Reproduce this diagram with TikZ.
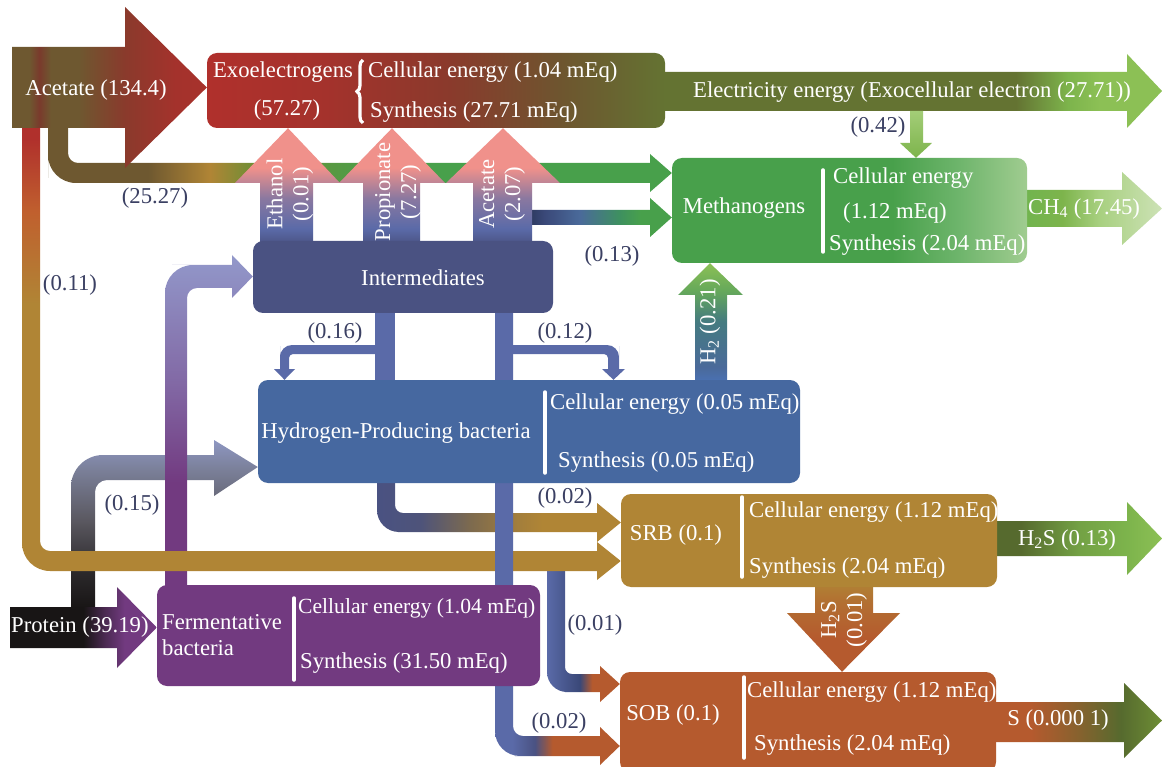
\documentclass[tikz,border=0pt]{standalone}
\usepackage{fontspec}
\setmainfont{Liberation Serif}
\usepackage{tikz}
\usetikzlibrary{decorations.pathreplacing}
\definecolor{navy}{HTML}{3B4063}\definecolor{exored}{HTML}{B0302C}\definecolor{exored2}{HTML}{A4322C}
\definecolor{maroon}{HTML}{8A3A2C}\definecolor{rusty}{HTML}{7A3A2C}\definecolor{umber}{HTML}{6E552F}
\definecolor{brownish}{HTML}{6E5830}\definecolor{olivebar}{HTML}{647332}\definecolor{grassolive}{HTML}{6E8E35}
\definecolor{mossgreen}{HTML}{566A2E}\definecolor{leaf}{HTML}{8CC055}\definecolor{leafmid}{HTML}{7DB44C}
\definecolor{methgreen}{HTML}{48A04B}\definecolor{methmid}{HTML}{6CB46A}\definecolor{methpale}{HTML}{A0CC90}
\definecolor{chgreen}{HTML}{72B44E}\definecolor{chmid}{HTML}{A8D080}\definecolor{chpale}{HTML}{CDE2B6}
\definecolor{slate}{HTML}{4A5282}\definecolor{inkblue}{HTML}{2E3A60}\definecolor{darkblue}{HTML}{3A4878}
\definecolor{dullblue}{HTML}{4A6A9A}\definecolor{brightblue}{HTML}{4A72B8}\definecolor{hydblue}{HTML}{4668A0}
\definecolor{stemblue}{HTML}{5A6AA8}\definecolor{tealgreen}{HTML}{3E9060}\definecolor{fermpurple}{HTML}{723A80}
\definecolor{lavender}{HTML}{9298CA}\definecolor{nearblack}{HTML}{181515}\definecolor{ashgrey}{HTML}{5A5860}
\definecolor{steelgrey}{HTML}{7A7F98}\definecolor{greyblue}{HTML}{8E97C2}\definecolor{mauve}{HTML}{8A78A0}
\definecolor{pinkhead}{HTML}{F0918B}\definecolor{srbgold}{HTML}{B08535}\definecolor{soborange}{HTML}{B55A2E}
\definecolor{rust}{HTML}{C0602E}
\pgfdeclarehorizontalshading{exobox}{100bp}{color(0bp)=(exored); color(25bp)=(exored); color(38bp)=(exored2); color(51.5bp)=(maroon); color(63.5bp)=(umber); color(75bp)=(olivebar); color(100bp)=(olivebar)}
\pgfdeclarehorizontalshading{methbox}{100bp}{color(0bp)=(methgreen); color(56bp)=(methgreen); color(65bp)=(methmid); color(75bp)=(methpale); color(100bp)=(methpale)}
\pgfdeclarehorizontalshading{acetflow}{100bp}{color(0bp)=(brownish); color(29.5bp)=(brownish); color(32bp)=(rusty); color(35bp)=(brownish); color(42bp)=(brownish); color(54bp)=(maroon); color(67bp)=(exored2); color(100bp)=(exored)}
\pgfdeclareverticalshading{redgold}{100bp}{color(0bp)=(srbgold); color(55bp)=(srbgold); color(65bp)=(rust); color(73bp)=(exored); color(100bp)=(exored)}
\pgfdeclarehorizontalshading{brownflow}{100bp}{color(0bp)=(brownish); color(33bp)=(brownish); color(38bp)=(srbgold); color(41.5bp)=(grassolive); color(52bp)=(methgreen); color(100bp)=(methgreen)}
\pgfdeclarehorizontalshading{elecflow}{100bp}{color(0bp)=(olivebar); color(61bp)=(olivebar); color(66bp)=(leafmid); color(69bp)=(leaf); color(100bp)=(leaf)}
\pgfdeclarehorizontalshading{chflow}{100bp}{color(0bp)=(chgreen); color(28bp)=(chgreen); color(40bp)=(leafmid); color(53bp)=(chmid); color(75bp)=(chpale); color(100bp)=(chpale)}
\pgfdeclareverticalshading{upflow}{100bp}{color(0bp)=(slate); color(25bp)=(slate); color(32bp)=(stemblue); color(45bp)=(mauve); color(58bp)=(pinkhead); color(100bp)=(pinkhead)}
\pgfdeclarehorizontalshading{tometh}{100bp}{color(0bp)=(inkblue); color(25bp)=(inkblue); color(30bp)=(darkblue); color(42.5bp)=(dullblue); color(56.5bp)=(tealgreen); color(64bp)=(methgreen); color(100bp)=(methgreen)}
\pgfdeclareverticalshading{purpleflow}{100bp}{color(0bp)=(fermpurple); color(41bp)=(fermpurple); color(56bp)=(fermpurple!50!lavender); color(75bp)=(lavender); color(100bp)=(lavender)}
\pgfdeclareverticalshading{greyflow}{100bp}{color(0bp)=(nearblack); color(25bp)=(nearblack); color(36bp)=(nearblack!70!ashgrey); color(51bp)=(ashgrey); color(66bp)=(steelgrey); color(75bp)=(greyblue); color(100bp)=(greyblue)}
\pgfdeclarehorizontalshading{proteinflow}{100bp}{color(0bp)=(nearblack); color(50bp)=(nearblack); color(57bp)=(fermpurple!55!nearblack); color(64bp)=(fermpurple); color(100bp)=(fermpurple)}
\pgfdeclarehorizontalshading{hydgold}{100bp}{color(0bp)=(slate); color(25bp)=(slate); color(34bp)=(slate!75!ashgrey); color(44bp)=(ashgrey!60!srbgold); color(54bp)=(srbgold!85!ashgrey); color(59bp)=(srbgold); color(100bp)=(srbgold)}
\pgfdeclarehorizontalshading{sobflowa}{100bp}{color(0bp)=(stemblue); color(25bp)=(stemblue); color(34bp)=(stemblue!60!darkblue); color(47.5bp)=(darkblue); color(56bp)=(soborange); color(100bp)=(soborange)}
\pgfdeclarehorizontalshading{sobflowb}{100bp}{color(0bp)=(stemblue); color(32bp)=(stemblue); color(41bp)=(slate); color(45bp)=(soborange!55!slate); color(48bp)=(soborange); color(100bp)=(soborange)}
\pgfdeclareverticalshading{htwoflow}{100bp}{color(0bp)=(brightblue); color(25bp)=(brightblue); color(32bp)=(dullblue); color(51bp)=(dullblue!55!tealgreen); color(63.5bp)=(tealgreen!50!leaf); color(75bp)=(leaf); color(100bp)=(leaf)}
\pgfdeclarehorizontalshading{htwosflow}{100bp}{color(0bp)=(mossgreen); color(34bp)=(mossgreen); color(51bp)=(leafmid!75!mossgreen); color(65bp)=(leafmid); color(75bp)=(leaf); color(100bp)=(leaf)}
\pgfdeclarehorizontalshading{sflow}{100bp}{color(0bp)=(soborange); color(37bp)=(soborange); color(51bp)=(soborange!50!mossgreen); color(63bp)=(mossgreen); color(75bp)=(grassolive); color(100bp)=(grassolive)}
\pgfdeclareverticalshading{hsdown}{100bp}{color(0bp)=(soborange); color(43bp)=(soborange); color(63bp)=(soborange!50!srbgold); color(75bp)=(srbgold); color(100bp)=(srbgold)}
\pgfdeclarelayer{bg}\pgfsetlayers{bg,main}
\tikzset{every node/.style={font=\fontsize{22.7pt}{26pt}\selectfont},box/.style={rounded corners=10pt,inner sep=0pt},wtxt/.style={text=white,inner sep=0pt},num/.style={text=navy,inner sep=0pt},bar/.style={white,line width=3.5pt,line cap=round}}
\begin{document}
\begin{tikzpicture}[x=1pt,y=-1pt]
\useasboundingbox (0,0) rectangle (1162,767);
\node[box,shade,shading=exobox,minimum width=458pt,minimum height=75pt] (exo) at (436,90.5) {};
\node[box,shade,shading=methbox,minimum width=355pt,minimum height=105pt] (meth) at (849.5,210.5) {};
\node[box,fill=slate,minimum width=300pt,minimum height=72pt] (intm) at (403,277) {};
\node[box,fill=hydblue,minimum width=542pt,minimum height=103pt] (hyd) at (529,431.5) {};
\node[box,fill=fermpurple,minimum width=383pt,minimum height=101pt] (ferm) at (348.5,635.5) {};
\node[box,fill=srbgold,minimum width=376pt,minimum height=93pt] (srb) at (809,540.5) {};
\node[box,fill=soborange,minimum width=376pt,minimum height=100pt] (sob) at (808,722) {};
\begin{pgfonlayer}{bg}
\fill[white] (0,0) rectangle (1162,767);
\shade[shading=greyflow] (71,608) -- (71,520) [rounded corners=32] -- (71,455) -- (140,455) [sharp corners] -- (214,455) -- (214,440) -- (hyd.west|-0,467) -- (214,496) -- (214,480) -- (140,480) [rounded corners=12] -- (95,480) -- (95,520) [sharp corners] -- (95,608) -- cycle;
\shade[shading=purpleflow] (165,590) -- (165,400) [rounded corners=28] -- (165,265) -- (200,265) [sharp corners] -- (232,265) -- (232,255) -- (intm.west|-0,276.5) -- (232,298) -- (232,288) -- (200,288) [rounded corners=10] -- (187,288) -- (187,400) [sharp corners] -- (187,590) -- cycle;
\shade[shading=sobflowa] (547,556) -- (547,640) [rounded corners=20] -- (547,692) -- (585,692) [sharp corners] -- (600,692) -- (600,702) -- (sob.west|-0,684) -- (600,666) -- (600,674) -- (585,674) [rounded corners=7] -- (565,674) -- (565,640) [sharp corners] -- (565,556) -- cycle;
\shade[shading=redgold] (22,120) -- (40,120) -- (40,300) [rounded corners=10] -- (40,551) -- (300,551) [sharp corners] -- (597,551) -- (597,542) -- (srb.west|-0,561) -- (597,580) -- (597,571) -- (300,571) [rounded corners=28] -- (22,571) -- (22,300) [sharp corners] -- cycle;
\shade[shading=hydgold] (377,475) -- (377,500) [rounded corners=22] -- (377,532) -- (420,532) [sharp corners] -- (597,532) -- (597,542) -- (srb.west|-0,522.5) -- (597,503) -- (597,513) -- (420,513) [rounded corners=8] -- (395,513) -- (395,500) [sharp corners] -- (395,475) -- cycle;
\shade[shading=sobflowb] (495,310) -- (495,700) [rounded corners=25] -- (495,756) -- (540,756) [sharp corners] -- (600,756) -- (600,765) -- (sob.west|-0,746) -- (600,727) -- (600,736) -- (540,736) [rounded corners=10] -- (513,736) -- (513,700) [sharp corners] -- (513,310) -- cycle;
\fill[stemblue] (375,310) rectangle (395,384);
\fill[stemblue] (376,345) -- (300,345) [rounded corners=12] -- (280,345) -- (280,358) [sharp corners] -- (280,369) -- (274,369) -- (284.5,0|-hyd.north) -- (295,369) -- (289,369) -- (289,362) [rounded corners=4] -- (289,354) -- (300,354) [sharp corners] -- (376,354) -- cycle;
\fill[stemblue] (512,345) -- (600,345) [rounded corners=12] -- (619,345) -- (619,358) [sharp corners] -- (619,369) -- (625,369) -- (613.5,0|-hyd.north) -- (602,369) -- (608,369) -- (608,362) [rounded corners=4] -- (608,354) -- (600,354) [sharp corners] -- (512,354) -- cycle;
\shade[shading=brownflow] (48,120) -- (68,120) -- (68,140) [rounded corners=10] -- (68,163) -- (200,163) [sharp corners] -- (650,163) -- (650,154) -- (meth.west|-0,173) -- (650,192) -- (650,183) -- (200,183) [rounded corners=28] -- (48,183) -- (48,150) [sharp corners] -- cycle;
\shade[shading=tometh] (530,210) -- (650,210) -- (650,198) -- (meth.west|-0,217.5) -- (650,237) -- (650,225) -- (530,225) -- cycle;
\shade[shading=upflow] (260,245) -- (260,183) -- (235,183) -- (288,0|-exo.south) -- (340,183) -- (313,183) -- (313,245) -- cycle;
\shade[shading=upflow] (363,245) -- (363,183) -- (339,183) -- (392,0|-exo.south) -- (445,183) -- (420,183) -- (420,245) -- cycle;
\shade[shading=upflow] (473,245) -- (473,183) -- (446,183) -- (503,0|-exo.south) -- (560,183) -- (532,183) -- (532,245) -- cycle;
\shade[shading=acetflow] (12,47) -- (125,47) -- (125,7) -- (exo.west|-0,87.5) -- (125,168) -- (125,128) -- (12,128) -- cycle;
\shade[shading=elecflow] (640,72) -- (1127,72) -- (1127,54) -- (1162,91) -- (1127,128) -- (1127,111) -- (640,111) -- cycle;
\shade[top color=leaf!80!white,bottom color=leafmid] (910,111) -- (923,111) -- (923,143) -- (932,143) -- (916,0|-meth.north) -- (900,143) -- (910,143) -- cycle;
\shade[shading=chflow] (1020,190) -- (1122,190) -- (1122,172) -- (1162,208.5) -- (1122,245) -- (1122,227) -- (1020,227) -- cycle;
\shade[shading=htwoflow] (695,384) -- (695,295) -- (678,295) -- (710,0|-meth.south) -- (743,295) -- (727,295) -- (727,384) -- cycle;
\shade[shading=htwosflow] (990,521) -- (1127,521) -- (1127,502) -- (1162,538.5) -- (1127,575) -- (1127,556) -- (990,556) -- cycle;
\shade[shading=hsdown] (815,580) -- (815,613) -- (787,613) -- (842,0|-sob.north) -- (900,613) -- (873,613) -- (873,580) -- cycle;
\shade[shading=sflow] (990,702) -- (1124,702) -- (1124,683) -- (1162,720.5) -- (1124,758) -- (1124,742) -- (990,742) -- cycle;
\shade[shading=proteinflow] (10,607) -- (117,607) -- (117,587) -- (ferm.west|-0,627.5) -- (117,668) -- (117,648) -- (10,648) -- cycle;
\end{pgfonlayer}
\node[wtxt] (acettxt) at (96,90) {Acetate (134.4)};
\node[wtxt] (exoname) at (283,72) {Exoelectrogens};\node[wtxt] (exonum) at (287,110) {(57.27)};
\draw[white,line width=3.2pt,decorate,decoration={brace,amplitude=6pt}] (363,123) -- (363,60);
\node[wtxt,anchor=west] (exocell) at (368,72) {Cellular energy (1.04 mEq)};\node[wtxt,anchor=west] (exosyn) at (370,112) {Synthesis (27.71 mEq)};
\node[wtxt] (electxt) at (912,92) {Electricity energy (Exocellular electron (27.71))};\node[num] (n042) at (878,127) {(0.42)};
\node[wtxt] (methname) at (744,208) {Methanogens};\draw[bar] (823,170) -- (823,252);
\node[wtxt,anchor=west] (methcell) at (833,178) {Cellular energy};\node[wtxt,anchor=west] (methval) at (843,213) {(1.12 mEq)};
\node[wtxt,anchor=west] (methsyn) at (829,245) {Synthesis (2.04 mEq)};\node[wtxt,anchor=west] (chtxt) at (1028,209) {CH\textsubscript{4} (17.45)};
\node[num] (n2527) at (155,198) {(25.27)};\node[num] (n013) at (612,256) {(0.13)};\node[num] (n011) at (70,285) {(0.11)};
\node[wtxt,rotate=90,align=center] (ethtxt) at (290,194) {Ethanol\\(0.01)};
\node[wtxt,rotate=90,align=center] (protxt) at (398,192) {Propionate\\(7.27)};
\node[wtxt,rotate=90,align=center] (acetxt) at (502,194) {Acetate\\(2.07)};
\node[wtxt] (intmname) at (423,278) {Intermediates};\node[num] (n016) at (335,333) {(0.16)};\node[num] (n012) at (565,333) {(0.12)};
\node[wtxt,rotate=90] (htwotxt) at (710,322) {H\textsubscript{2} (0.21)};
\node[wtxt] (hydname) at (396,433) {Hydrogen-Producing bacteria};\draw[bar] (545,392) -- (545,473);
\node[wtxt,anchor=west] (hydcell) at (550,404) {Cellular energy (0.05 mEq)};\node[wtxt,anchor=west] (hydsyn) at (558,462) {Synthesis (0.05 mEq)};
\node[num] (n015) at (132,505) {(0.15)};\node[wtxt,anchor=west] (prottxt) at (11,627) {Protein (39.19)};
\node[wtxt,anchor=west,align=left] (fermname) at (162,635) {Fermentative\\bacteria};\draw[bar] (294,598) -- (294,680);
\node[wtxt,anchor=west,font=\fontsize{21.6pt}{26pt}\selectfont] (fermcell) at (298,608) {Cellular energy (1.04 mEq)};\node[wtxt,anchor=west] (fermsyn) at (300,663) {Synthesis (31.50 mEq)};
\node[num] (n002a) at (565,498) {(0.02)};\node[num] (n001) at (595,625) {(0.01)};\node[num] (n002b) at (559,723) {(0.02)};
\node[wtxt] (srbname) at (676,535) {SRB (0.1)};\draw[bar] (742,497) -- (742,577);
\node[wtxt,anchor=west] (srbcell) at (749,512) {Cellular energy (1.12 mEq)};\node[wtxt,anchor=west] (srbsyn) at (749,568) {Synthesis (2.04 mEq)};
\node[wtxt] (hstxt) at (1067,540) {H\textsubscript{2}S (0.13)};\node[wtxt,rotate=90,align=center] (hsdtxt) at (844,620) {H\textsubscript{2}S\\(0.01)};
\node[wtxt] (sobname) at (673,715) {SOB (0.1)};\draw[bar] (744,677) -- (744,758);
\node[wtxt,anchor=west] (sobcell) at (747,692) {Cellular energy (1.12 mEq)};\node[wtxt,anchor=west] (sobsyn) at (754,745) {Synthesis (2.04 mEq)};
\node[wtxt] (stxt) at (1058,720) {S (0.000 1)};
\end{tikzpicture}
\end{document}
